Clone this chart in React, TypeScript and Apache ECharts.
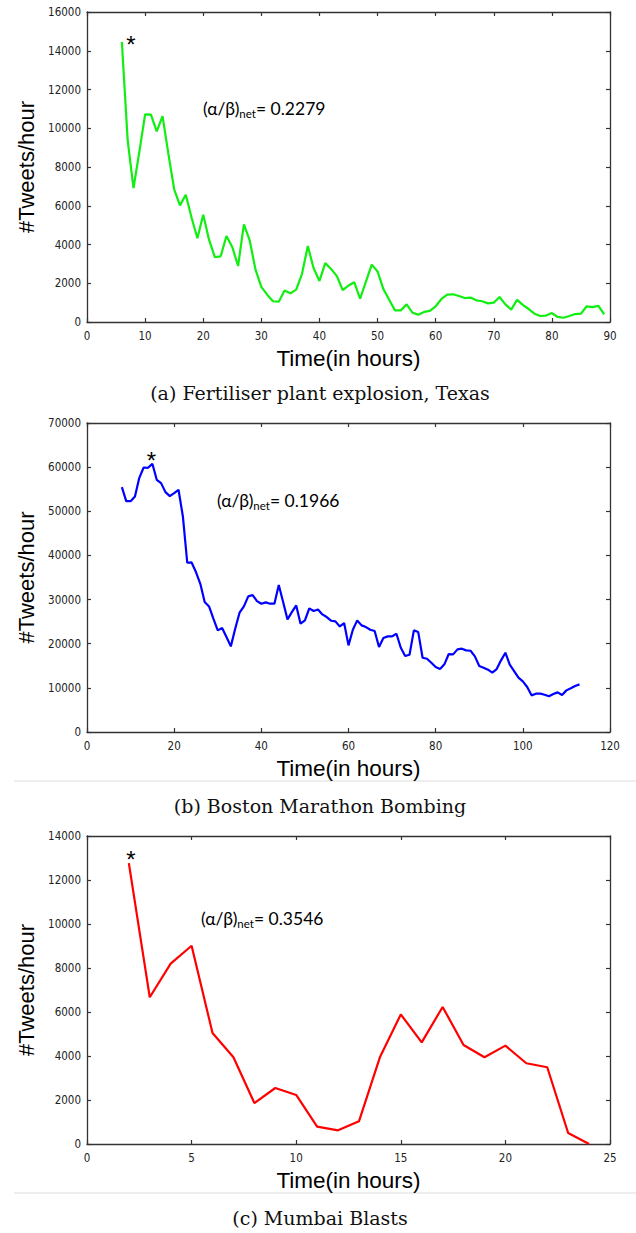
import React, { useEffect, useRef } from "react";
import * as echarts from "echarts";

// (a) Fertiliser plant explosion, Texas
const hoursA = [6, 7, 8, 9, 10, 11, 12, 13, 14, 15, 16, 17, 18, 19, 20, 21, 22, 23, 24, 25, 26, 27, 28, 29, 30, 31, 32, 33, 34, 35, 36, 37, 38, 39, 40, 41, 42, 43, 44, 45, 46, 47, 48, 49, 50, 51, 52, 53, 54, 55, 56, 57, 58, 59, 60, 61, 62, 63, 64, 65, 66, 67, 68, 69, 70, 71, 72, 73, 74, 75, 76, 77, 78, 79, 80, 81, 82, 83, 84, 85, 86, 87, 88, 89];
const tweetsA = [14450, 9370, 6910, 8770, 10720, 10700, 9840, 10630, 8690, 6850, 6020, 6570, 5380, 4320, 5540, 4250, 3350, 3390, 4440, 3870, 2890, 5040, 4210, 2700, 1810, 1410, 1070, 1050, 1620, 1480, 1670, 2490, 3920, 2770, 2120, 3040, 2740, 2370, 1650, 1880, 2050, 1200, 2080, 2960, 2610, 1700, 1150, 600, 600, 910, 480, 380, 520, 570, 810, 1190, 1410, 1430, 1340, 1240, 1260, 1120, 1070, 960, 1000, 1290, 910, 640, 1140, 880, 670, 430, 310, 330, 460, 260, 220, 310, 410, 430, 810, 770, 830, 400];

// (b) Boston Marathon Bombing
const hoursB = [8, 9, 10, 11, 12, 13, 14, 15, 16, 17, 18, 19, 20, 21, 22, 23, 24, 25, 26, 27, 28, 29, 30, 31, 32, 33, 34, 35, 36, 37, 38, 39, 40, 41, 42, 43, 44, 45, 46, 47, 48, 49, 50, 51, 52, 53, 54, 55, 56, 57, 58, 59, 60, 61, 62, 63, 64, 65, 66, 67, 68, 69, 70, 71, 72, 73, 74, 75, 76, 77, 78, 79, 80, 81, 82, 83, 84, 85, 86, 87, 88, 89, 90, 91, 92, 93, 94, 95, 96, 97, 98, 99, 100, 101, 102, 103, 104, 105, 106, 107, 108, 109, 110, 111, 112, 113];
const tweetsB = [55470, 52300, 52300, 53360, 57580, 59920, 59850, 60750, 57130, 56380, 54340, 53430, 54110, 54870, 48830, 38340, 38410, 36230, 33580, 29430, 28450, 25660, 23020, 23550, 21510, 19400, 23400, 27020, 28450, 30720, 31020, 29660, 29060, 29360, 29060, 29060, 33280, 29430, 25510, 27170, 28680, 24530, 25280, 28000, 27400, 27770, 26640, 26040, 25210, 25060, 23920, 24680, 19620, 23170, 25280, 24150, 23770, 23170, 22870, 19240, 21280, 21660, 21660, 22260, 19090, 17210, 17510, 23020, 22640, 16830, 16600, 15700, 14720, 14260, 15320, 17660, 17580, 18720, 18870, 18490, 18410, 17130, 14940, 14570, 14110, 13430, 14260, 16230, 17960, 15250, 13810, 12300, 11470, 10190, 8300, 8680, 8680, 8450, 8080, 8600, 8980, 8380, 9430, 9890, 10420, 10790];

// (c) Mumbai Blasts
const hoursC = [2, 3, 4, 5, 6, 7, 8, 9, 10, 11, 12, 13, 14, 15, 16, 17, 18, 19, 20, 21, 22, 23, 24];
const tweetsC = [12770, 6670, 8200, 9010, 5045, 3940, 1860, 2545, 2230, 790, 620, 1030, 3940, 5890, 4620, 6230, 4500, 3940, 4470, 3670, 3490, 500, 0];

const captions = [
  "(a) Fertiliser plant explosion, Texas",
  "(b) Boston Marathon Bombing",
  "(c) Mumbai Blasts",
];
const ratios = ["0.2279", "0.1966", "0.3546"];
const colors = ["#11ee11", "#0000ff", "#ff0000"];
const xMax = [90, 120, 25];
const xInterval = [10, 20, 5];
const yMax = [16000, 70000, 14000];
const yInterval = [2000, 10000, 2000];
const starOffsets = [[9, 2], [-1, -3], [2, -4]];

const grids = [
  { left: 87, top: 12, width: 523, height: 310 },
  { left: 87, top: 423, width: 523, height: 309 },
  { left: 87, top: 836, width: 523, height: 308 },
];
const ratioPos = [
  { x: 203, y: 108 },
  { x: 217, y: 500 },
  { x: 201, y: 918 },
];
const captionY = [393, 806, 1218];
const separatorY = [781, 1193];

const tickFont = "'DejaVu Sans Condensed', 'Liberation Sans', Arial, sans-serif";
const axisColor = "#333";

export default function App() {
  const ref = useRef<HTMLDivElement>(null);
  useEffect(() => {
    document.body.style.margin = "0";
    const chart = echarts.init(ref.current!, null, { renderer: "svg" });
    const datasets = [
      hoursA.map((h, i) => [h, tweetsA[i]]),
      hoursB.map((h, i) => [h, tweetsB[i]]),
      hoursC.map((h, i) => [h, tweetsC[i]]),
    ];
    const xAxis: any[] = [];
    const yAxis: any[] = [];
    const series: any[] = [];
    const graphic: any[] = [];
    const plain = (v: number) => String(v);
    for (let g = 0; g < 3; g++) {
      const lineCfg = { show: true, lineStyle: { color: axisColor, width: 1.3 } };
      const tickCfg = { show: true, inside: true, length: 4, lineStyle: { color: axisColor, width: 1.2 } };
      xAxis.push({
        type: "value", gridIndex: g, position: "bottom", min: 0, max: xMax[g], interval: xInterval[g],
        axisLine: { ...lineCfg, onZero: false }, axisTick: tickCfg, splitLine: { show: false },
        axisLabel: { fontFamily: tickFont, fontSize: 11.5, color: "#222", margin: 8, formatter: plain },
        name: "Time(in hours)", nameLocation: "middle", nameGap: 25,
        nameTextStyle: { fontFamily: "'Liberation Sans', Arial, sans-serif", fontSize: 22.5, color: "#000" },
      });
      xAxis.push({
        type: "value", gridIndex: g, position: "top", min: 0, max: xMax[g], interval: xInterval[g],
        axisLine: { ...lineCfg, onZero: false }, axisTick: tickCfg, splitLine: { show: false },
        axisLabel: { show: false },
      });
      yAxis.push({
        type: "value", gridIndex: g, position: "left", min: 0, max: yMax[g], interval: yInterval[g],
        axisLine: { ...lineCfg, onZero: false }, axisTick: tickCfg, splitLine: { show: false },
        axisLabel: { fontFamily: tickFont, fontSize: 11.5, color: "#222", margin: 6, formatter: plain },
        name: "#Tweets/hour", nameLocation: "middle", nameGap: 50,
        nameTextStyle: { fontFamily: "'Liberation Sans', Arial, sans-serif", fontSize: 22, color: "#000" },
      });
      yAxis.push({
        type: "value", gridIndex: g, position: "right", min: 0, max: yMax[g], interval: yInterval[g],
        axisLine: { ...lineCfg, onZero: false }, axisTick: tickCfg, splitLine: { show: false },
        axisLabel: { show: false },
      });
      series.push({
        type: "line", xAxisIndex: 2 * g, yAxisIndex: 2 * g, data: datasets[g],
        showSymbol: false, symbol: "none",
        lineStyle: { color: colors[g], width: 2.2 },
        markPoint: {
          symbol: "circle", symbolSize: 0,
          data: [{ type: "max" }],
          label: {
            show: true, formatter: "*", position: "inside", offset: starOffsets[g],
            fontFamily: "'Liberation Sans', Arial, sans-serif", fontSize: 24, color: "#000",
          },
        },
      });
      graphic.push({
        type: "text", x: ratioPos[g].x, y: ratioPos[g].y,
        style: {
          text: "{a|(α/β)}{s|net}{a|= " + ratios[g] + "}",
          verticalAlign: "middle",
          rich: {
            a: { fontFamily: "Lato, 'Open Sans', sans-serif", fontSize: 17.5, color: "#1a1a1a", lineHeight: 22 },
            s: { fontFamily: "Lato, 'Open Sans', sans-serif", fontSize: 11.5, color: "#333", verticalAlign: "bottom", lineHeight: 12 },
          },
        },
      });
      graphic.push({
        type: "text", x: 320, y: captionY[g],
        style: {
          text: captions[g], textAlign: "center", verticalAlign: "middle",
          fontFamily: "'DejaVu Serif', 'Liberation Serif', serif", fontSize: 19, fill: "#111",
        },
      });
    }
    for (const sy of separatorY) {
      graphic.push({
        type: "line", shape: { x1: 14, y1: sy, x2: 636, y2: sy },
        style: { stroke: "#dddddd", lineWidth: 1 },
      });
    }
    chart.setOption({
      animation: false,
      backgroundColor: "#ffffff",
      grid: grids,
      xAxis,
      yAxis,
      series,
      graphic,
    });
    return () => chart.dispose();
  }, []);
  return <div ref={ref} style={{ width: 636, height: 1233 }} />;
}
